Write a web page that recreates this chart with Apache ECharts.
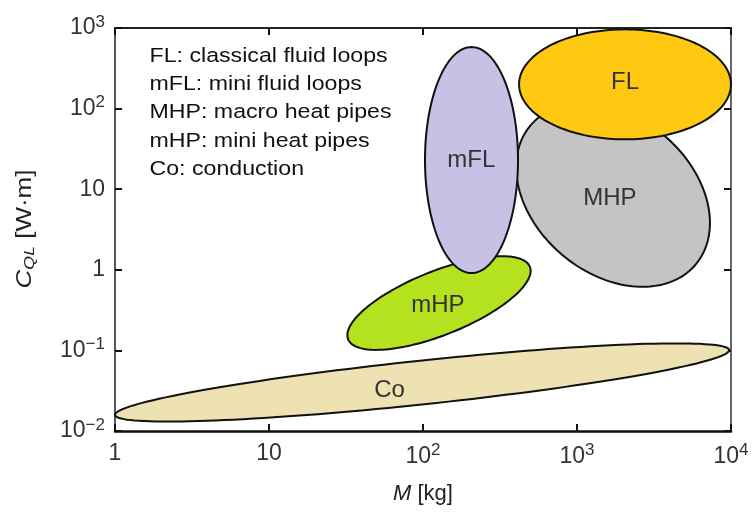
<!DOCTYPE html>
<html><head><meta charset="utf-8">
<script src="https://cdn.jsdelivr.net/npm/echarts@6/dist/echarts.min.js"></script>
<style>html,body{margin:0;padding:0;background:#fff}#c{width:752px;height:513px}</style>
</head><body><div id="c"></div>
<script>
// ---- data ----
const regions   = ['Co', 'mHP', 'MHP', 'mFL', 'FL'];
// ellipse centres (M in kg, C_QL in W·m)
const centerM   = [98.6, 127, 1714, 206.5, 2050];
const centerC   = [0.04, 0.387, 8.47, 23.0, 200];
// first semi-axis vector, in decades of M and of C_QL
const axisA_M   = [1.994, 0.590, 0.537, 0.302, 0.688];
const axisA_C   = [0.403, 0.450, -0.861, 0, 0];
// second semi-axis vector, in decades of M and of C_QL
const axisB_M   = [0.0144, 0.0769, -0.328, 0, 0];
const axisB_C   = [-0.27, -0.368, -0.746, 1.402, 0.682];
// label anchor points (M, C_QL)
const labelM    = [60.6, 125, 1637, 206, 2050];
const labelC    = [0.0323, 0.365, 7.67, 22.7, 211];
const xTickLabels = ['1', '10', '10{sup|2}', '10{sup|3}', '10{sup|4}'];
const yTickLabels = ['10{sup|−2}', '10{sup|−1}', '1', '10', '10{sup|2}', '10{sup|3}'];
const notes = [
  'FL: classical fluid loops',
  'mFL: mini fluid loops',
  'MHP: macro heat pipes',
  'mHP: mini heat pipes',
  'Co: conduction'
];
const xName = '{i|M} [kg]';
const yName = '{i|C}{sub|QL} [W·m]';

// ---- styles ----
const FONT = '"Liberation Sans", Arial, Helvetica, sans-serif';
const fills = {Co: '#EEE2B2', mHP: '#B5E21F', MHP: '#C4C4C4', mFL: '#C8C1E6', FL: '#FEC910'};

const chart = echarts.init(document.getElementById('c'), null, {renderer: 'canvas'});

const tickRich = {
  sup: {fontSize: 17, fontFamily: FONT, color: '#333', padding: [0, 0, 12, 0]}
};
function xFmt(v) { const e = Math.round(Math.log10(v)); return xTickLabels[e] || ''; }
function yFmt(v) { const e = Math.round(Math.log10(v)); return yTickLabels[e + 2] || ''; }

const baseAxis = {
  type: 'log', logBase: 10, interval: 1,
  splitLine: {show: false}, minorTick: {show: false},
  axisTick: {show: true, inside: true, length: 7, lineStyle: {color: '#111', width: 2}}
};

chart.setOption({
  animation: false,
  backgroundColor: '#fff',
  grid: {left: 115, right: 21, top: 28, bottom: 82},
  xAxis: [
    Object.assign({}, baseAxis, {
      min: 1, max: 10000, position: 'bottom',
      axisLine: {show: true, lineStyle: {color: '#111', width: 2.5}},
      axisLabel: {show: true, formatter: xFmt, margin: 11, color: '#333', fontSize: 23, fontFamily: FONT, rich: tickRich},
      name: xName, nameLocation: 'middle', nameGap: 52,
      nameTextStyle: {fontSize: 22, fontFamily: FONT, color: '#222',
        rich: {i: {fontSize: 22, fontFamily: FONT, fontStyle: 'italic', color: '#222'}}}
    }),
    Object.assign({}, baseAxis, {
      min: 1, max: 10000, position: 'top',
      axisLine: {show: true, lineStyle: {color: '#222', width: 2}},
      axisLabel: {show: false}
    })
  ],
  yAxis: [
    Object.assign({}, baseAxis, {
      min: 0.01, max: 1000, position: 'left',
      axisLine: {show: true, lineStyle: {color: '#555', width: 2}},
      axisLabel: {show: true, formatter: yFmt, margin: 10, color: '#333', fontSize: 23, fontFamily: FONT, rich: tickRich}
    }),
    Object.assign({}, baseAxis, {
      min: 0.01, max: 1000, position: 'right',
      axisLine: {show: true, lineStyle: {color: '#666', width: 2}},
      axisLabel: {show: false}
    })
  ],
  graphic: [{
    type: 'text', x: 149.5, y: 42, scaleX: 1.13, silent: true,
    style: {text: notes.join('\n'), font: '20.5px ' + FONT, fill: '#111', lineHeight: 28.3, verticalAlign: 'top'}
  }, {
    type: 'text', x: 25, y: 229, rotation: Math.PI / 2, scaleX: 1.18, silent: true,
    style: {
      text: yName, font: '22px ' + FONT, fill: '#222', align: 'center', verticalAlign: 'middle',
      rich: {
        i: {fontSize: 22, fontFamily: FONT, fontStyle: 'italic', fill: '#222'},
        sub: {fontSize: 15, fontFamily: FONT, fontStyle: 'italic', fill: '#222', padding: [10, 0, 0, 0]}
      }
    }
  }],
  series: [{
    type: 'custom',
    coordinateSystem: 'cartesian2d',
    xAxisIndex: 0, yAxisIndex: 0,
    clip: false,
    data: regions.map((r, i) => [centerM[i], centerC[i]]),
    encode: {x: 0, y: 1},
    renderItem: function (params, api) {
      const i = params.dataIndex;
      const lx = Math.log10(centerM[i]), ly = Math.log10(centerC[i]);
      const pts = [];
      const N = 160;
      for (let k = 0; k < N; k++) {
        const t = 2 * Math.PI * k / N;
        const px = lx + Math.cos(t) * axisA_M[i] + Math.sin(t) * axisB_M[i];
        const py = ly + Math.cos(t) * axisA_C[i] + Math.sin(t) * axisB_C[i];
        pts.push(api.coord([Math.pow(10, px), Math.pow(10, py)]));
      }
      const lp = api.coord([labelM[i], labelC[i]]);
      return {
        type: 'group',
        children: [
          {type: 'polygon', shape: {points: pts}, style: {fill: fills[regions[i]], stroke: '#111', lineWidth: 2}},
          {type: 'text', x: lp[0], y: lp[1], style: {text: regions[i], fill: '#333', font: '24px ' + FONT, align: 'center', verticalAlign: 'middle'}}
        ]
      };
    }
  }]
});
</script></body></html>
